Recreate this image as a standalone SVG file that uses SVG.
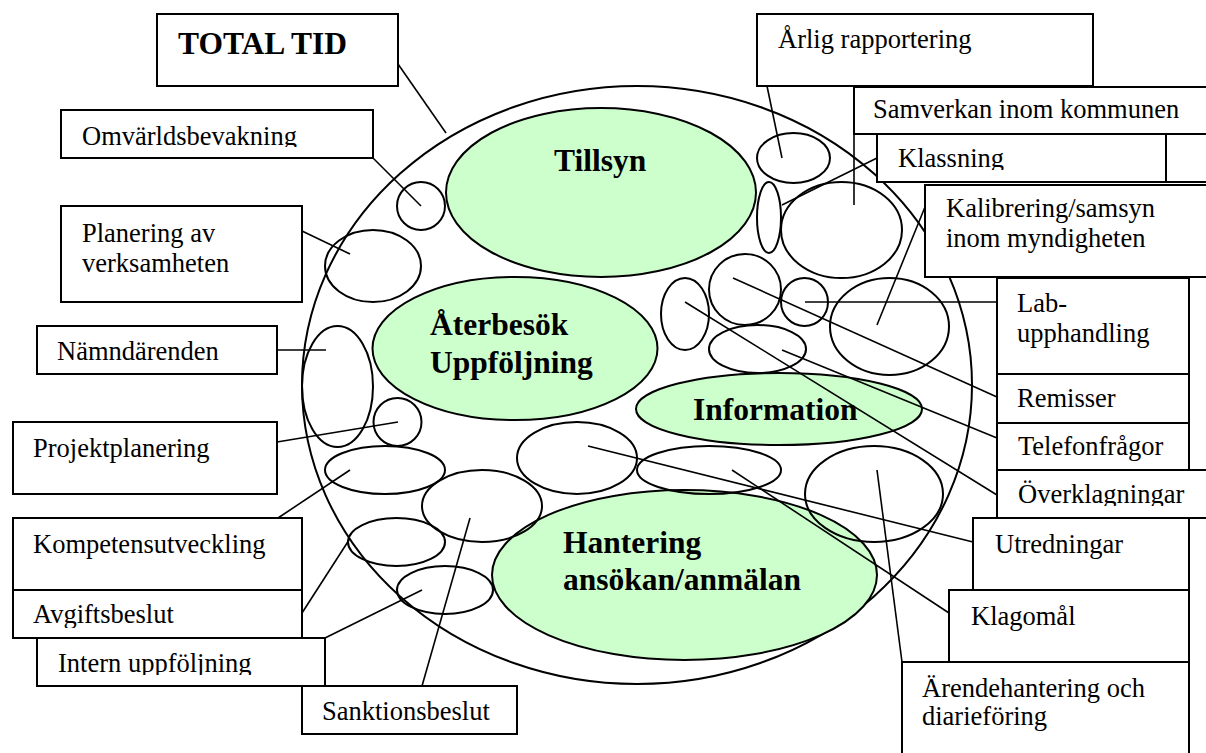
<svg xmlns="http://www.w3.org/2000/svg" width="1206" height="753" viewBox="0 0 1206 753">
<style>
.bx{fill:#fff;stroke:#000;stroke-width:2}
.el{fill:none;stroke:#000;stroke-width:2}
.gr{fill:#CCFFCC;stroke:#000;stroke-width:2}
.ln{stroke:#000;stroke-width:1.6;fill:none}
.t{font-family:"Liberation Serif","Times New Roman",serif;font-size:26.5px;fill:#000}
.b{font-family:"Liberation Serif","Times New Roman",serif;font-size:31.5px;font-weight:bold;fill:#000}
</style>
<defs>
<clipPath id="cOmv"><rect x="61" y="110" width="312" height="37"/></clipPath>
<clipPath id="cKla"><rect x="877" y="134" width="289" height="36"/></clipPath>
<clipPath id="cTel"><rect x="997" y="423" width="192" height="38"/></clipPath>
<clipPath id="cOve"><rect x="997" y="470" width="209" height="36"/></clipPath>
<clipPath id="cAvg"><rect x="13" y="590" width="289" height="38"/></clipPath>
<clipPath id="cInt"><rect x="37" y="638" width="288" height="37"/></clipPath>
</defs>
<rect width="1206" height="753" fill="#fff"/>

<g id="outer"><ellipse class="el" cx="637" cy="385" rx="335" ry="299"/></g>

<g id="main-areas">
<g id="tillsyn"><ellipse class="gr" cx="601" cy="192.5" rx="155" ry="84.5"/><text class="b" x="554" y="171">Tillsyn</text></g>
<g id="aterbesok"><ellipse class="gr" cx="515" cy="348.5" rx="142.5" ry="71.5"/><text class="b" x="430" y="335">Återbesök</text><text class="b" x="430" y="373">Uppföljning</text></g>
<g id="information"><ellipse class="gr" cx="779" cy="409" rx="143" ry="36"/><text class="b" x="693" y="420">Information</text></g>
<g id="hantering"><ellipse class="gr" cx="684.5" cy="575" rx="192.5" ry="85"/><text class="b" x="563" y="553">Hantering</text><text class="b" x="563" y="590">ansökan/anmälan</text></g>
</g>

<g id="small-areas">
<ellipse class="el" cx="421" cy="206" rx="24" ry="24"/>
<ellipse class="el" cx="373" cy="266" rx="48" ry="36"/>
<ellipse class="el" cx="337.5" cy="386.5" rx="35.5" ry="60.5"/>
<ellipse class="el" cx="397.5" cy="422" rx="24" ry="24"/>
<ellipse class="el" cx="385" cy="470" rx="60" ry="24"/>
<ellipse class="el" cx="396.5" cy="542" rx="48.5" ry="24"/>
<ellipse class="el" cx="445" cy="590" rx="48" ry="24"/>
<ellipse class="el" cx="482" cy="506" rx="60" ry="36"/>
<ellipse class="el" cx="577" cy="458" rx="60" ry="36"/>
<ellipse class="el" cx="709" cy="470" rx="72" ry="24"/>
<ellipse class="el" cx="874" cy="494" rx="69" ry="48"/>
<ellipse class="el" cx="793.5" cy="158" rx="36.5" ry="25"/>
<ellipse class="el" cx="769" cy="217.5" rx="12" ry="35.5"/>
<ellipse class="el" cx="841.5" cy="230" rx="60.5" ry="48"/>
<ellipse class="el" cx="745" cy="289.5" rx="36" ry="35.5"/>
<ellipse class="el" cx="804.5" cy="302" rx="23.5" ry="24"/>
<ellipse class="el" cx="889.5" cy="326.5" rx="59.5" ry="48.5"/>
<ellipse class="el" cx="757.5" cy="349" rx="48.5" ry="24"/>
<ellipse class="el" cx="685" cy="314" rx="24" ry="36"/>
</g>

<g id="connectors">
<line class="ln" x1="398" y1="64" x2="446" y2="133"/>
<line class="ln" x1="373" y1="158" x2="421" y2="206"/>
<line class="ln" x1="302" y1="231" x2="350" y2="254"/>
<line class="ln" x1="277" y1="350" x2="326" y2="350"/>
<line class="ln" x1="277" y1="442" x2="398" y2="422"/>
<line class="ln" x1="278" y1="518" x2="350" y2="470"/>
<line class="ln" x1="302" y1="613" x2="349" y2="540"/>
<line class="ln" x1="325" y1="638" x2="422" y2="590"/>
<line class="ln" x1="422" y1="686" x2="470" y2="518"/>
<line class="ln" x1="767" y1="86" x2="782" y2="158"/>
<line class="ln" x1="854" y1="134" x2="854" y2="205"/>
<line class="ln" x1="877" y1="158" x2="782" y2="205"/>
<line class="ln" x1="925" y1="207" x2="877" y2="325"/>
<line class="ln" x1="997" y1="302" x2="805" y2="302"/>
<line class="ln" x1="997" y1="397" x2="733" y2="278"/>
<line class="ln" x1="997" y1="438" x2="782" y2="350"/>
<line class="ln" x1="997" y1="495" x2="685" y2="302"/>
<line class="ln" x1="973" y1="542" x2="588" y2="446"/>
<line class="ln" x1="949" y1="613" x2="732" y2="470"/>
<line class="ln" x1="902" y1="662" x2="877" y2="470"/>
</g>

<g id="box-total"><rect class="bx" x="157" y="14" width="241" height="72"/><text class="b" x="178" y="54">TOTAL TID</text></g>
<g id="box-omv"><rect class="bx" x="61" y="110" width="312" height="48"/><text class="t" x="82" y="145" clip-path="url(#cOmv)">Omvärldsbevakning</text></g>
<g id="box-plan"><rect class="bx" x="61" y="206" width="241" height="96"/><text class="t" x="82" y="242">Planering av</text><text class="t" x="82" y="272">verksamheten</text></g>
<g id="box-namnd"><rect class="bx" x="37" y="326" width="240" height="48"/><text class="t" x="57" y="360">Nämndärenden</text></g>
<g id="box-projekt"><rect class="bx" x="13" y="422" width="264" height="72"/><text class="t" x="33" y="457">Projektplanering</text></g>
<g id="box-komp"><rect class="bx" x="13" y="518" width="289" height="72"/><text class="t" x="33" y="553">Kompetensutveckling</text></g>
<g id="box-avg"><rect class="bx" x="13" y="590" width="289" height="48"/><text class="t" x="33" y="623" clip-path="url(#cAvg)">Avgiftsbeslut</text></g>
<g id="box-intern"><rect class="bx" x="37" y="638" width="288" height="48"/><text class="t" x="58" y="672" clip-path="url(#cInt)">Intern uppföljning</text></g>
<g id="box-sank"><rect class="bx" x="302" y="686" width="215" height="48"/><text class="t" x="322" y="720">Sanktionsbeslut</text></g>

<g id="box-arlig"><rect class="bx" x="757" y="14" width="336" height="72"/><text class="t" x="778" y="48">Årlig rapportering</text></g>
<g id="box-samv"><rect class="bx" x="854" y="87" width="360" height="47"/><text class="t" x="873" y="118">Samverkan inom kommunen</text></g>
<g id="box-klass"><rect class="bx" x="877" y="134" width="289" height="48"/><rect class="bx" x="1166" y="134" width="50" height="48"/><text class="t" x="898" y="167" clip-path="url(#cKla)">Klassning</text></g>
<g id="box-kalib"><rect class="bx" x="925" y="185" width="290" height="92"/><text class="t" x="946" y="217">Kalibrering/samsyn</text><text class="t" x="946" y="247">inom myndigheten</text></g>
<g id="box-lab"><rect class="bx" x="997" y="278" width="192" height="96"/><text class="t" x="1017" y="312">Lab-</text><text class="t" x="1017" y="342">upphandling</text></g>
<g id="box-remiss"><rect class="bx" x="997" y="374" width="192" height="49"/><text class="t" x="1017" y="407">Remisser</text></g>
<g id="box-telefon"><rect class="bx" x="997" y="423" width="192" height="47"/><text class="t" x="1018" y="455" clip-path="url(#cTel)">Telefonfrågor</text></g>
<g id="box-overkl"><rect class="bx" x="997" y="470" width="219" height="48"/><text class="t" x="1018" y="503" clip-path="url(#cOve)">Överklagningar</text></g>
<g id="box-utred"><rect class="bx" x="973" y="518" width="216" height="72"/><text class="t" x="995" y="553">Utredningar</text></g>
<g id="box-klago"><rect class="bx" x="949" y="590" width="240" height="72"/><text class="t" x="971" y="625">Klagomål</text></g>
<g id="box-arende"><rect class="bx" x="902" y="662" width="287" height="100"/><text class="t" x="922" y="697">Ärendehantering och</text><text class="t" x="922" y="725">diarieföring</text></g>
</svg>
